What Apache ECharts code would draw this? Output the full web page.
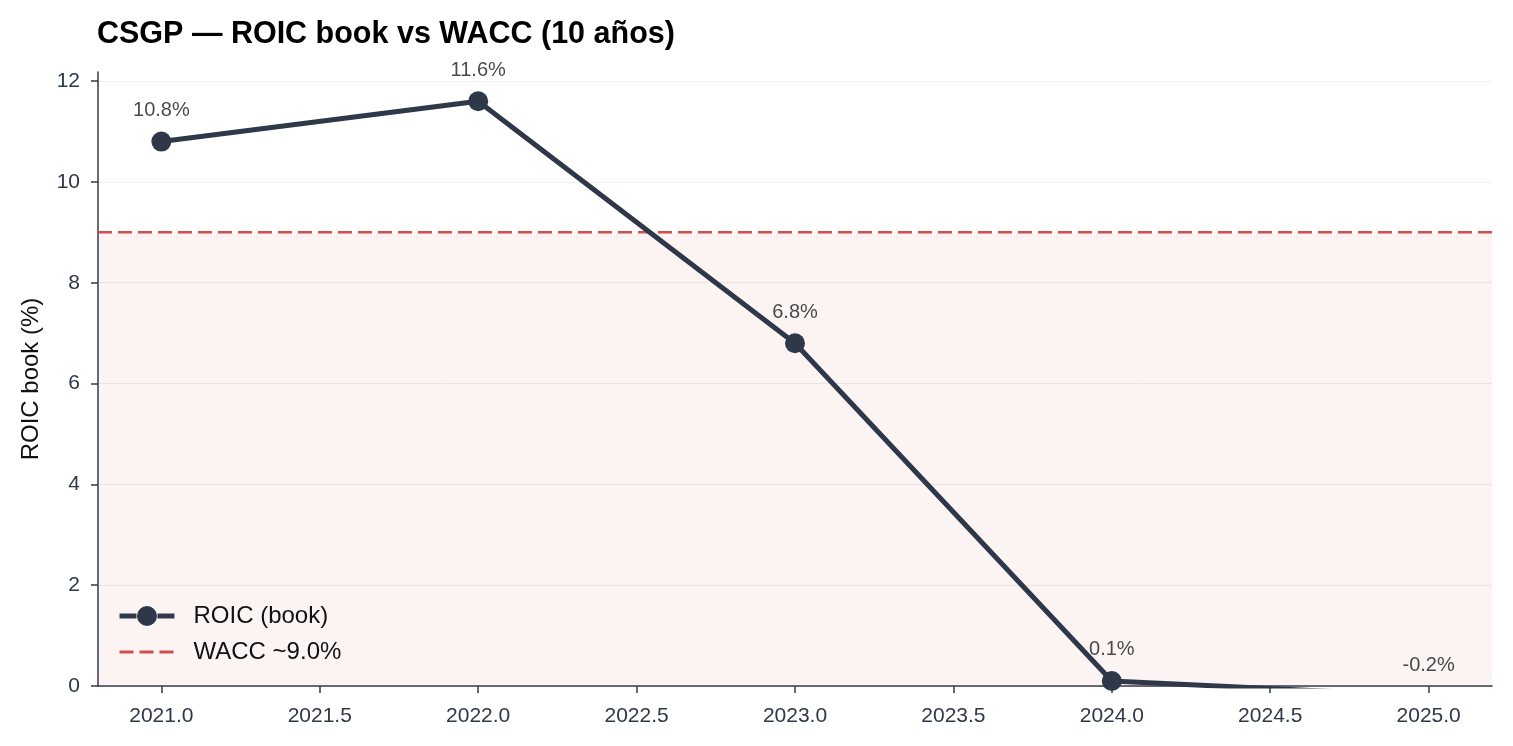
<!DOCTYPE html>
<html>
<head>
<meta charset="utf-8">
<title>CSGP ROIC vs WACC</title>
<script src="https://cdn.jsdelivr.net/npm/echarts@6/dist/echarts.min.js"></script>
<style>
  html, body { margin: 0; padding: 0; background: #fff; }
  #chart { width: 1513px; height: 746px; }
</style>
</head>
<body>
<div id="chart"></div>
<script>
// data
var years = [2021, 2022, 2023, 2024, 2025];
var roic = [10.8, 11.6, 6.8, 0.1, -0.2];
var wacc = 9.0;
var xTicks = [2021.0, 2021.5, 2022.0, 2022.5, 2023.0, 2023.5, 2024.0, 2024.5, 2025.0];
var yTicks = [0, 2, 4, 6, 8, 10, 12];

var ink = '#2e3849';
var red = '#d05050';
var font = '"Liberation Sans", Arial, sans-serif';

var roicPts = years.map(function(y, i) { return [y, roic[i]]; });

var chart = echarts.init(document.getElementById('chart'));
var option = {
    animation: false,
    textStyle: { fontFamily: font },
    title: {
        text: 'CSGP — ROIC book vs WACC (10 años)',
        left: 97,
        top: 19,
        padding: 0,
        textStyle: { fontSize: 30.5, fontWeight: 'bold', color: '#000', fontFamily: font }
    },
    grid: { left: 98, right: 21, top: 72, bottom: 60 },
    legend: {
        left: 118,
        top: 604,
        padding: 0,
        orient: 'vertical',
        itemGap: 12,
        itemWidth: 55,
        itemHeight: 22,
        textStyle: { fontSize: 24, color: '#111', padding: [0, 0, 0, 14] },
        data: [
            {
                name: 'ROIC (book)',
                icon: 'path://M0,8.4 L17,8.4 L17,13.6 L0,13.6 Z M38,8.4 L55,8.4 L55,13.6 L38,13.6 Z M27.5,1 A10,10 0 1,1 27.49,1 Z'
            },
            {
                name: 'WACC ~9.0%',
                itemStyle: { opacity: 0 },
                lineStyle: { width: 3 }
            }
        ]
    },
    xAxis: {
        type: 'value',
        min: 2020.8,
        max: 2025.2,
        axisLine: { lineStyle: { color: '#333a48', width: 1.5 } },
        axisTick: { customValues: xTicks, length: 7, lineStyle: { color: '#333a48', width: 1.5 } },
        axisLabel: {
            customValues: xTicks,
            formatter: function(v) { return v.toFixed(1); },
            fontSize: 21, color: ink, margin: 20
        },
        splitLine: { show: false }
    },
    yAxis: {
        type: 'value',
        min: 0,
        max: 12.18,
        name: 'ROIC book (%)',
        nameLocation: 'middle',
        nameGap: 55,
        nameTextStyle: { fontSize: 24, color: '#111' },
        axisLine: { show: true, lineStyle: { color: '#333a48', width: 1.5 } },
        axisTick: { show: true, customValues: yTicks, length: 7, lineStyle: { color: '#333a48', width: 1.5 } },
        axisLabel: { customValues: yTicks, fontSize: 21, color: ink, margin: 18 },
        splitLine: { show: true, lineStyle: { color: '#eceef2', width: 1 } }
    },
    series: [
        {
            name: 'WACC ~9.0%',
            type: 'line',
            data: [[2020.8, wacc], [2025.2, wacc]],
            symbol: 'none',
            z: 3,
            lineStyle: { color: red, width: 2.5, type: [14, 6] },
            itemStyle: { color: red },
            markArea: {
                silent: true,
                itemStyle: { color: 'rgba(208,80,80,0.07)' },
                data: [[{ yAxis: 0 }, { yAxis: wacc }]]
            }
        },
        {
            name: 'ROIC (book)',
            type: 'line',
            data: roicPts,
            clip: true,
            symbol: 'circle',
            symbolSize: 20,
            z: 4,
            lineStyle: { color: ink, width: 5 },
            itemStyle: { color: ink }
        },
        {
            name: 'labels',
            type: 'scatter',
            data: roicPts,
            clip: false,
            symbolSize: 0,
            silent: true,
            z: 5,
            label: {
                show: true,
                position: 'top',
                distance: 21,
                fontSize: 20,
                color: '#1a1a1a',
                formatter: function(p) { return p.value[1].toFixed(1) + '%'; }
            }
        }
    ]
};
chart.setOption(option);
</script>
</body>
</html>
